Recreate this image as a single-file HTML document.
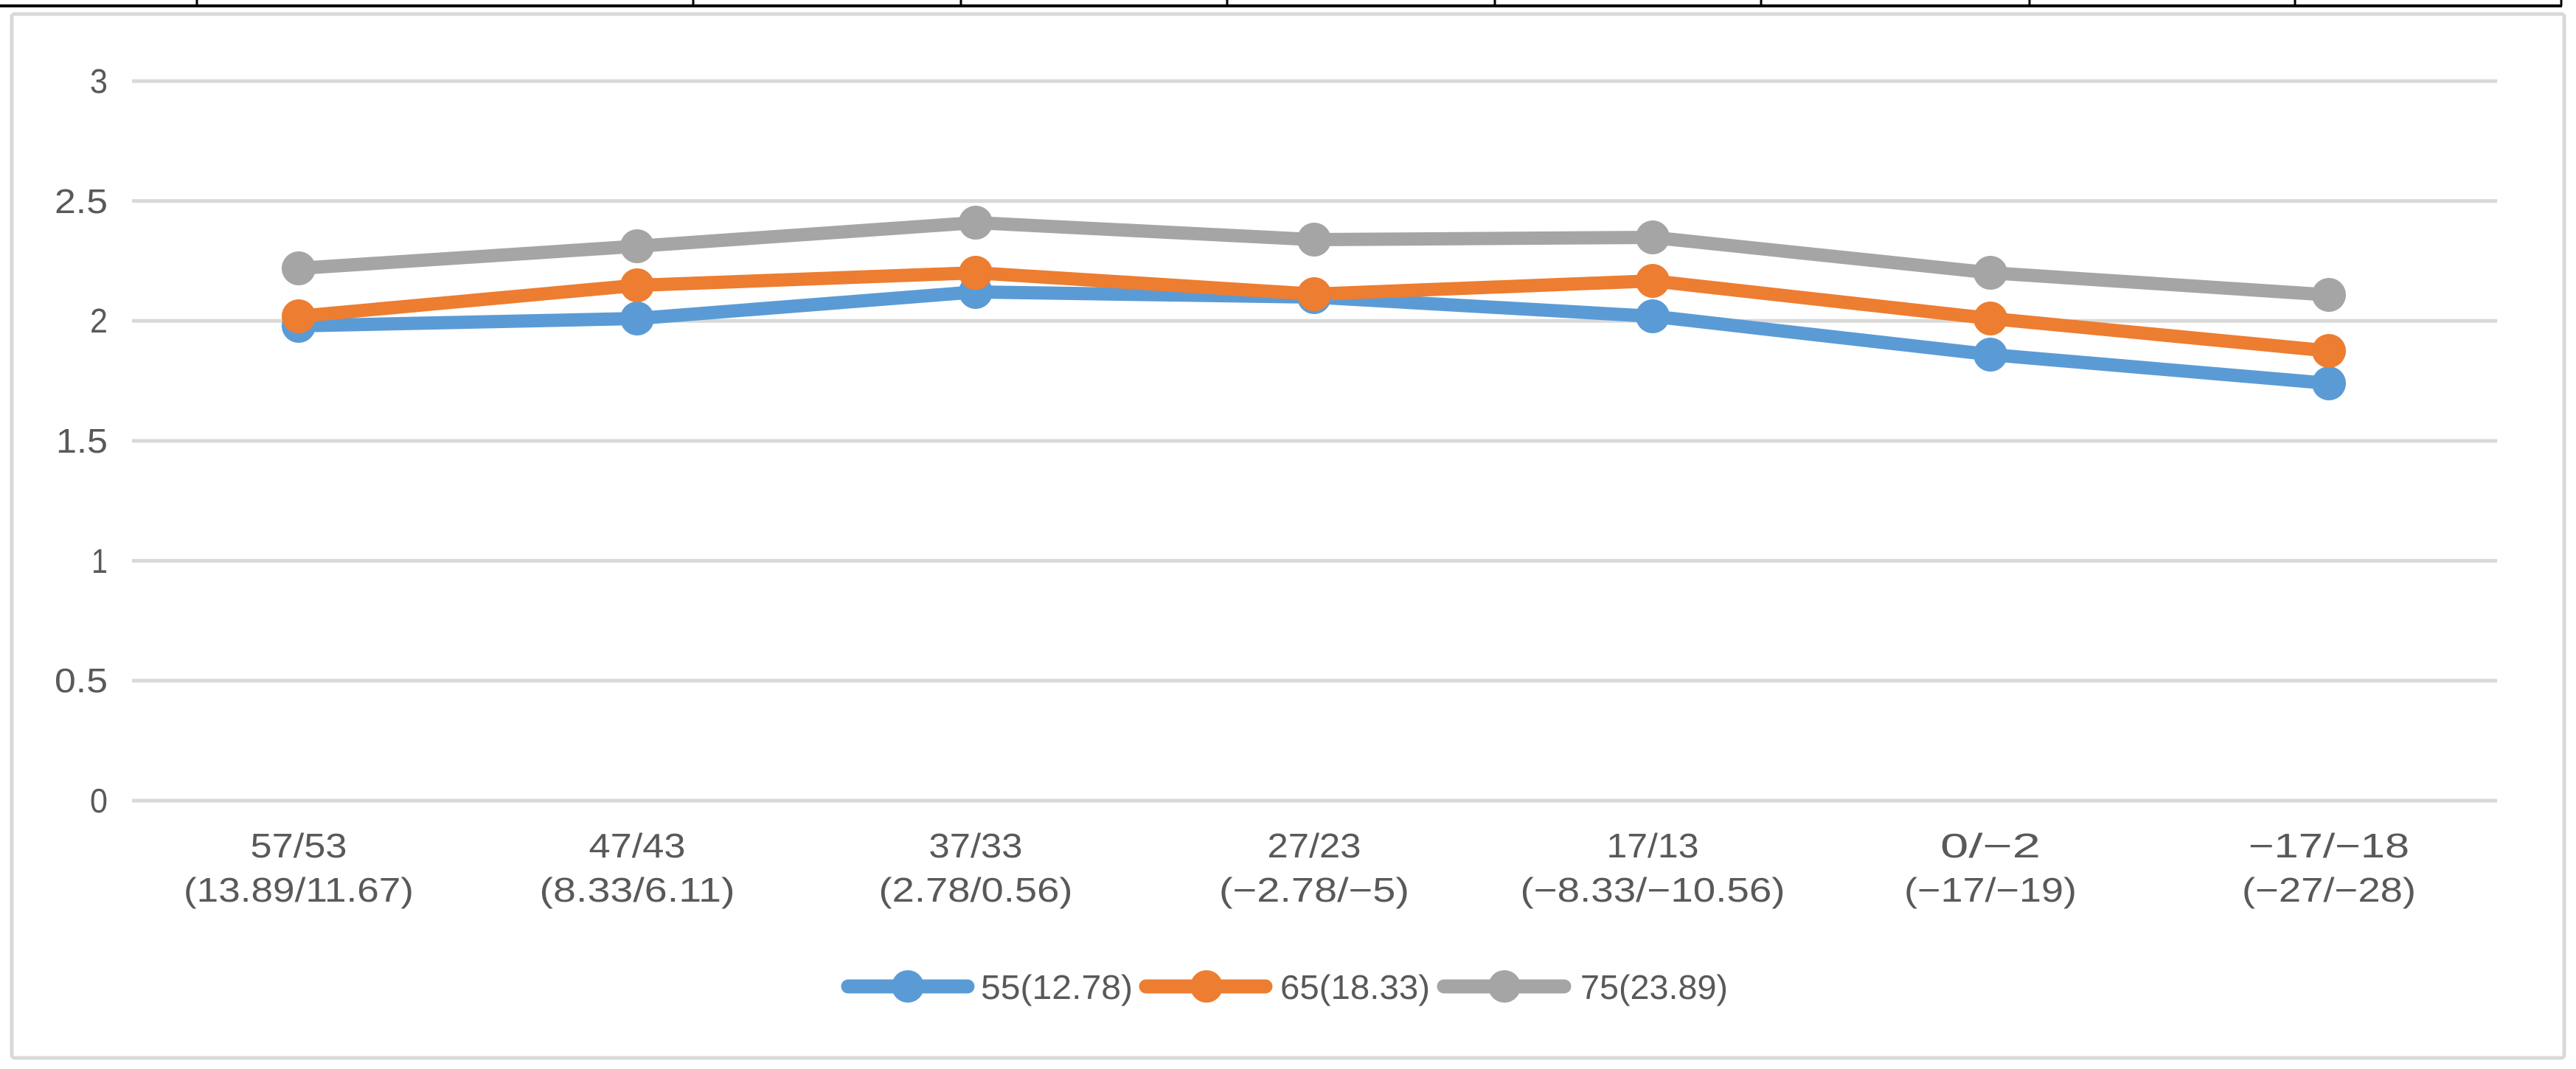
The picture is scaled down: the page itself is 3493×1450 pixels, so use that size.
<!DOCTYPE html>
<html><head><meta charset="utf-8"><style>html,body{margin:0;padding:0;background:#fff}svg{display:block}</style></head>
<body>
<svg width="3493" height="1450" viewBox="0 0 3493 1450" xmlns="http://www.w3.org/2000/svg" font-family="Liberation Sans, sans-serif" fill="#595959">
<rect x="0" y="0" width="3493" height="1450" fill="#fff"/>
<line x1="0" y1="8" x2="3474" y2="8" stroke="#000" stroke-width="4"/>
<g stroke="#000" stroke-width="3">
<line x1="267" y1="0" x2="267" y2="8"/><line x1="940" y1="0" x2="940" y2="8"/><line x1="1303" y1="0" x2="1303" y2="8"/><line x1="1664" y1="0" x2="1664" y2="8"/><line x1="2027" y1="0" x2="2027" y2="8"/><line x1="2388" y1="0" x2="2388" y2="8"/><line x1="2752" y1="0" x2="2752" y2="8"/><line x1="3112" y1="0" x2="3112" y2="8"/><line x1="3473" y1="0" x2="3473" y2="8"/>
</g>
<rect x="16" y="19" width="3461" height="1416" fill="#fff" stroke="#d9d9d9" stroke-width="5" rx="4"/>
<g stroke="#d9d9d9" stroke-width="5">
<line x1="179" y1="110" x2="3386" y2="110"/>
<line x1="179" y1="272.6" x2="3386" y2="272.6"/>
<line x1="179" y1="435.3" x2="3386" y2="435.3"/>
<line x1="179" y1="598" x2="3386" y2="598"/>
<line x1="179" y1="760.6" x2="3386" y2="760.6"/>
<line x1="179" y1="923.3" x2="3386" y2="923.3"/>
<line x1="179" y1="1086" x2="3386" y2="1086"/>
</g>
<g font-size="46" text-anchor="end">
<text x="146" y="126" textLength="24" lengthAdjust="spacingAndGlyphs">3</text>
<text x="146" y="289" textLength="72" lengthAdjust="spacingAndGlyphs">2.5</text>
<text x="146" y="451" textLength="24" lengthAdjust="spacingAndGlyphs">2</text>
<text x="146" y="614" textLength="70" lengthAdjust="spacingAndGlyphs">1.5</text>
<text x="146" y="777" textLength="22" lengthAdjust="spacingAndGlyphs">1</text>
<text x="146" y="939" textLength="72" lengthAdjust="spacingAndGlyphs">0.5</text>
<text x="146" y="1102" textLength="24" lengthAdjust="spacingAndGlyphs">0</text>
</g>
<g font-size="46" text-anchor="middle">
<text x="405" y="1163" textLength="131" lengthAdjust="spacingAndGlyphs">57/53</text><text x="405" y="1223" textLength="312" lengthAdjust="spacingAndGlyphs">(13.89/11.67)</text>
<text x="864" y="1163" textLength="131" lengthAdjust="spacingAndGlyphs">47/43</text><text x="864" y="1223" textLength="265" lengthAdjust="spacingAndGlyphs">(8.33/6.11)</text>
<text x="1323" y="1163" textLength="127" lengthAdjust="spacingAndGlyphs">37/33</text><text x="1323" y="1223" textLength="263" lengthAdjust="spacingAndGlyphs">(2.78/0.56)</text>
<text x="1782" y="1163" textLength="127" lengthAdjust="spacingAndGlyphs">27/23</text><text x="1782" y="1223" textLength="258" lengthAdjust="spacingAndGlyphs">(−2.78/−5)</text>
<text x="2241" y="1163" textLength="125" lengthAdjust="spacingAndGlyphs">17/13</text><text x="2241" y="1223" textLength="359" lengthAdjust="spacingAndGlyphs">(−8.33/−10.56)</text>
<text x="2699" y="1163" textLength="136" lengthAdjust="spacingAndGlyphs">0/−2</text><text x="2699" y="1223" textLength="234" lengthAdjust="spacingAndGlyphs">(−17/−19)</text>
<text x="3158" y="1163" textLength="218" lengthAdjust="spacingAndGlyphs">−17/−18</text><text x="3158" y="1223" textLength="236" lengthAdjust="spacingAndGlyphs">(−27/−28)</text>
</g>
<g fill="none" stroke-width="18" stroke-linejoin="round" stroke-linecap="round">
<polyline stroke="#5b9bd5" points="405,442 864,432 1323,396 1782,403 2241,429 2699,481 3158,520"/>
<polyline stroke="#ed7d31" points="405,429 864,387 1323,370 1782,399 2241,381 2699,432 3158,476"/>
<polyline stroke="#a5a5a5" points="405,364 864,334 1323,302 1782,325 2241,322 2699,370 3158,400"/>
</g>
<g fill="#5b9bd5"><circle cx="405" cy="442" r="23"/><circle cx="864" cy="432" r="23"/><circle cx="1323" cy="396" r="23"/><circle cx="1782" cy="403" r="23"/><circle cx="2241" cy="429" r="23"/><circle cx="2699" cy="481" r="23"/><circle cx="3158" cy="520" r="23"/></g>
<g fill="#ed7d31"><circle cx="405" cy="429" r="23"/><circle cx="864" cy="387" r="23"/><circle cx="1323" cy="370" r="23"/><circle cx="1782" cy="399" r="23"/><circle cx="2241" cy="381" r="23"/><circle cx="2699" cy="432" r="23"/><circle cx="3158" cy="476" r="23"/></g>
<g fill="#a5a5a5"><circle cx="405" cy="364" r="23"/><circle cx="864" cy="334" r="23"/><circle cx="1323" cy="302" r="23"/><circle cx="1782" cy="325" r="23"/><circle cx="2241" cy="322" r="23"/><circle cx="2699" cy="370" r="23"/><circle cx="3158" cy="400" r="23"/></g>
<g stroke-width="19" stroke-linecap="round">
<line x1="1150" y1="1338" x2="1312" y2="1338" stroke="#5b9bd5"/>
<line x1="1554" y1="1338" x2="1716" y2="1338" stroke="#ed7d31"/>
<line x1="1958" y1="1338" x2="2121" y2="1338" stroke="#a5a5a5"/>
</g>
<circle cx="1231" cy="1338" r="22" fill="#5b9bd5"/>
<circle cx="1636" cy="1338" r="22" fill="#ed7d31"/>
<circle cx="2040" cy="1338" r="22" fill="#a5a5a5"/>
<g font-size="46">
<text x="1330" y="1355" textLength="206" lengthAdjust="spacingAndGlyphs">55(12.78)</text>
<text x="1736" y="1355" textLength="203" lengthAdjust="spacingAndGlyphs">65(18.33)</text>
<text x="2143" y="1355" textLength="200" lengthAdjust="spacingAndGlyphs">75(23.89)</text>
</g>
</svg>
</body></html>
